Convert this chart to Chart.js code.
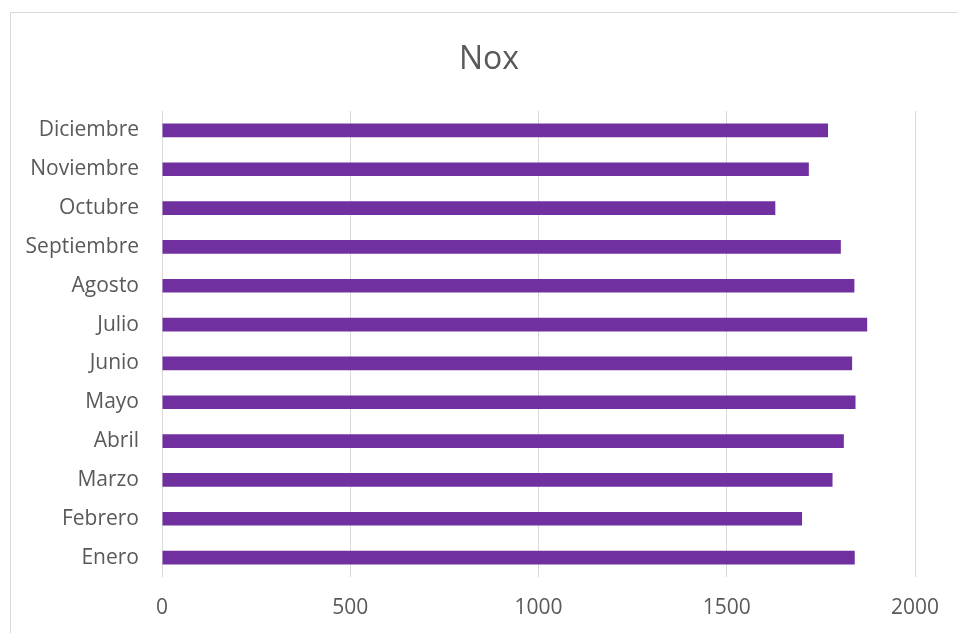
<!DOCTYPE html>
<html>
<head>
<meta charset="utf-8">
<title>Nox</title>
<script src="https://cdn.jsdelivr.net/npm/chart.js@4/dist/chart.umd.min.js"></script>
<style>
  html, body { margin: 0; padding: 0; background: #ffffff; }
  canvas { display: block; }
</style>
</head>
<body>
<canvas id="chart" width="958" height="633"></canvas>
<script>
// Monthly NOx values
const months = ['Enero', 'Febrero', 'Marzo', 'Abril', 'Mayo', 'Junio',
                'Julio', 'Agosto', 'Septiembre', 'Octubre', 'Noviembre', 'Diciembre'];
const noxValues = [1840, 1700, 1781, 1811, 1842, 1833, 1873, 1839, 1803, 1629, 1718, 1769];
const xTicks = [0, 500, 1000, 1500, 2000];

const textColor = '#595959';
const gridColor = '#d9d9d9';

// Thin frame around the chart object; the title is centred on that frame
const framePlugin = {
  id: 'frame',
  afterLayout(chart) {
    if (chart.titleBlock) {
      chart.titleBlock.left = 20;
      chart.titleBlock.right = 958;
    }
  },
  beforeDraw(chart) {
    const ctx = chart.ctx;
    ctx.save();
    ctx.fillStyle = '#ffffff';
    ctx.fillRect(0, 0, chart.width, chart.height);
    ctx.strokeStyle = gridColor;
    ctx.lineWidth = 1;
    ctx.strokeRect(10.5, 12.5, chart.width, chart.height);
    ctx.restore();
  }
};

new Chart(document.getElementById('chart'), {
  type: 'bar',
  data: {
    labels: months,
    datasets: [{
      label: 'Nox',
      data: noxValues,
      backgroundColor: '#7030a0',
      borderWidth: 0,
      barPercentage: 0.35,
      categoryPercentage: 1
    }]
  },
  options: {
    indexAxis: 'y',
    responsive: false,
    animation: false,
    layout: { padding: { left: 0, right: 43, top: 0, bottom: 13 } },
    plugins: {
      legend: { display: false },
      tooltip: { enabled: false },
      title: {
        display: true,
        text: 'Nox',
        color: textColor,
        font: { family: 'Open Sans', size: 32, weight: 'normal' },
        padding: { top: 41, bottom: 31.6 }
      }
    },
    scales: {
      x: {
        min: 0,
        max: 2000,
        afterBuildTicks(scale) {
          scale.ticks = xTicks.map(v => ({ value: v }));
        },
        afterFit(scale) { scale.height = 43; },
        grid: { color: gridColor, lineWidth: 1, drawTicks: false },
        border: { display: false },
        ticks: {
          color: textColor,
          font: { family: 'Open Sans', size: 21 },
          padding: 18,
          callback: (value) => String(value)
        }
      },
      y: {
        reverse: true,
        afterFit(scale) { scale.width = 162; },
        grid: { display: false, drawTicks: false },
        border: { display: false },
        ticks: {
          color: textColor,
          font: { family: 'Open Sans', size: 21 },
          padding: 23
        }
      }
    }
  },
  plugins: [framePlugin]
});
</script>
</body>
</html>
